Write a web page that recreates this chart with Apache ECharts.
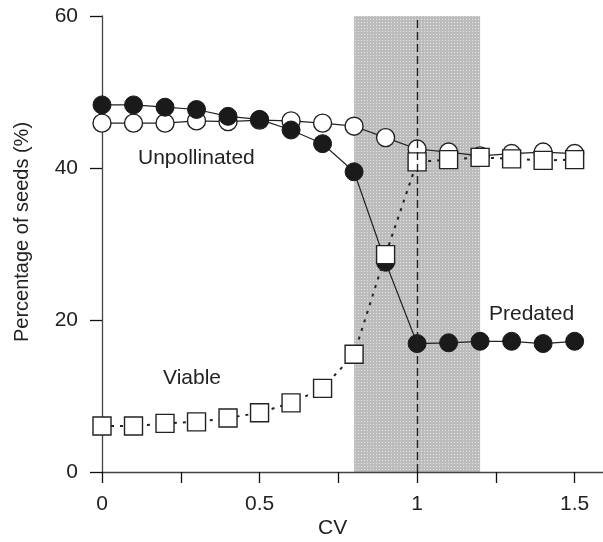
<!DOCTYPE html>
<html>
<head>
<meta charset="utf-8">
<script src="https://cdn.jsdelivr.net/npm/echarts@6/dist/echarts.min.js"></script>
<style>
  html, body { margin: 0; padding: 0; background: #fff; }
  #chart { width: 603px; height: 542px; }
</style>
</head>
<body>
<div id="chart"></div>
<script>
// CV values on the x axis
const cv = [0, 0.1, 0.2, 0.3, 0.4, 0.5, 0.6, 0.7, 0.8, 0.9, 1.0, 1.1, 1.2, 1.3, 1.4, 1.5]
// percentage of seeds
const unpollinated = [45.9, 45.9, 45.9, 46.2, 46.1, 46.3, 46.2, 45.9, 45.5, 44.0, 42.5, 42.1, 41.6, 41.9, 42.1, 41.9]
const predated = [48.3, 48.3, 48.0, 47.7, 46.8, 46.4, 45.0, 43.2, 39.5, 27.6, 16.9, 17.0, 17.2, 17.2, 16.9, 17.2]
const viable = [6.05, 6.05, 6.4, 6.6, 7.1, 7.8, 9.1, 11.0, 15.5, 28.6, 40.8, 41.1, 41.4, 41.2, 41.0, 41.1]
// shaded range and reference line
const bandRange = [0.8, 1.2]
const refLine = 1
// ticks and tick labels
const xTicks = [0, 0.25, 0.5, 0.75, 1, 1.25, 1.5]
const xLabelValues = [0, 0.5, 1, 1.5]

const font = 'Liberation Sans, Arial, sans-serif'
const pairs = ys => cv.map((x, i) => [x, ys[i]])

// dotted grey texture for the shaded band
const pat = document.createElement('canvas')
pat.width = 3
pat.height = 3
const pctx = pat.getContext('2d')
pctx.fillStyle = '#bcbcbc'
pctx.fillRect(0, 0, 3, 3)
pctx.fillStyle = '#e4e4e4'
pctx.fillRect(1, 1, 1, 1)

const chart = echarts.init(document.getElementById('chart'))
chart.setOption({
  animation: false,
  grid: { left: 102, right: 0, top: 16, bottom: 70 },
  xAxis: {
    type: 'value',
    min: 0,
    max: 1.59,
    splitLine: { show: false },
    axisLine: { lineStyle: { color: '#444', width: 1.3 } },
    axisTick: { length: 11, customValues: xTicks, lineStyle: { color: '#111', width: 1.3 } },
    axisLabel: {
      margin: 22,
      fontSize: 21,
      fontFamily: font,
      color: '#222',
      customValues: xLabelValues
    }
  },
  yAxis: {
    type: 'value',
    min: 0,
    max: 60,
    interval: 20,
    splitLine: { show: false },
    axisLine: { lineStyle: { color: '#444', width: 1.3 } },
    axisTick: { length: 12, lineStyle: { color: '#111', width: 1.3 } },
    axisLabel: { margin: 24, fontSize: 21, fontFamily: font, color: '#222' }
  },
  graphic: [
    { type: 'text', left: 318, top: 518, style: { text: 'CV', fontSize: 21, fontFamily: font, fill: '#222' } },
    {
      type: 'text', x: 22, y: 232, rotation: Math.PI / 2,
      style: { text: 'Percentage of seeds (%)', fontSize: 20, fontFamily: font, fill: '#222', align: 'center', verticalAlign: 'middle' }
    },
    { type: 'text', x: 138, y: 158, style: { text: 'Unpollinated', fontSize: 21, fontFamily: font, fill: '#222', verticalAlign: 'middle' } },
    { type: 'text', x: 163, y: 378, style: { text: 'Viable', fontSize: 21, fontFamily: font, fill: '#222', verticalAlign: 'middle' } },
    { type: 'text', x: 489, y: 314, style: { text: 'Predated', fontSize: 21, fontFamily: font, fill: '#222', verticalAlign: 'middle' } }
  ],
  series: [
    {
      name: 'Unpollinated',
      type: 'line',
      z: 2,
      data: pairs(unpollinated),
      symbol: 'circle',
      symbolSize: 18,
      lineStyle: { color: '#222', width: 1.2 },
      itemStyle: { color: '#fff', borderColor: '#222', borderWidth: 1.4 },
      markArea: {
        silent: true,
        z: 0,
        itemStyle: { color: { image: pat, repeat: 'repeat' } },
        data: [[{ xAxis: bandRange[0], yAxis: 0 }, { xAxis: bandRange[1], yAxis: 60 }]]
      },
      markLine: {
        silent: true,
        symbol: 'none',
        label: { show: false },
        lineStyle: { color: '#222', type: [8, 4], width: 1.4 },
        data: [[{ coord: [refLine, 0] }, { coord: [refLine, 60] }]]
      }
    },
    {
      name: 'Predated',
      type: 'line',
      z: 3,
      data: pairs(predated),
      symbol: 'circle',
      symbolSize: 18,
      lineStyle: { color: '#222', width: 1.2 },
      itemStyle: { color: '#1a1a1a', borderColor: '#1a1a1a', borderWidth: 1 }
    },
    {
      name: 'Viable',
      type: 'line',
      z: 4,
      data: pairs(viable),
      symbol: 'rect',
      symbolSize: 18,
      lineStyle: { color: '#222', width: 2, type: [3, 6] },
      itemStyle: { color: '#fff', borderColor: '#222', borderWidth: 1.4 }
    }
  ]
})
</script>
</body>
</html>
